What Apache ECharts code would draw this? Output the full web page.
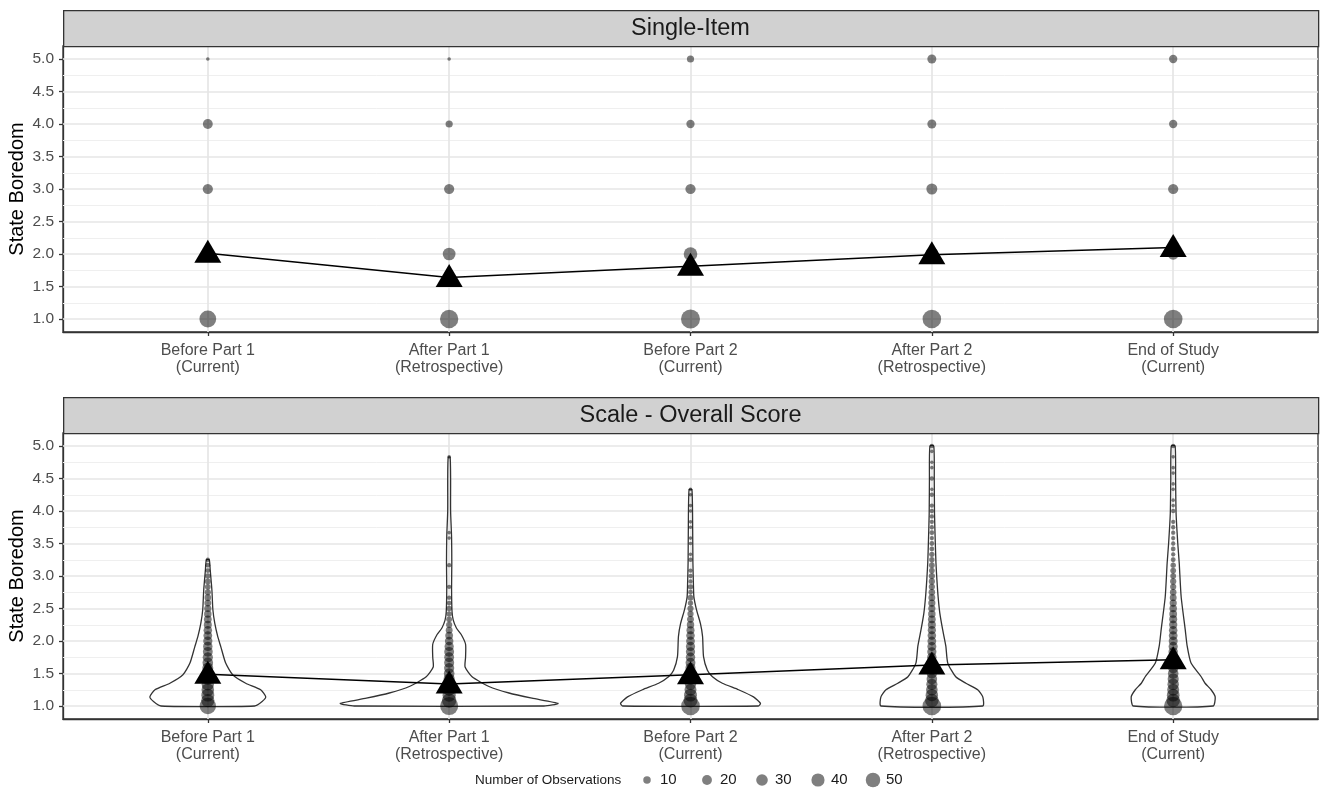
<!DOCTYPE html>
<html>
<head>
<meta charset="utf-8">
<script src="https://cdn.jsdelivr.net/npm/echarts@6/dist/echarts.min.js"></script>
<style>
html,body{margin:0;padding:0;background:#fff;}
#chart{width:1322px;height:791px;}
</style>
</head>
<body>
<div id="chart"></div>
<script>
// ---------------- DATA ----------------
const categories = ['Before Part 1\n(Current)', 'After Part 1\n(Retrospective)', 'Before Part 2\n(Current)', 'After Part 2\n(Retrospective)', 'End of Study\n(Current)'];
const panelTitles = ['Single-Item', 'Scale - Overall Score'];
const yTicks = [1.0, 1.5, 2.0, 2.5, 3.0, 3.5, 4.0, 4.5, 5.0];
const yMinorTicks = [1.25, 1.75, 2.25, 2.75, 3.25, 3.75, 4.25, 4.75];
const legendBreaks = [10, 20, 30, 40, 50];

// Single-item: number of observations at each response level
const singleLevels = [1, 2, 3, 4, 5];
const singleCounts = [
  [69, 30, 22, 20, 1],
  [84, 37, 22, 9, 1],
  [91, 43, 22, 13, 9],
  [87, 40, 26, 16, 16],
  [87, 28, 22, 13, 13]
];
const singleMeans = [2.01, 1.64, 1.81, 1.99, 2.10];

// Scale overall score: observed score levels and counts
const scoreLevels = [1.000, 1.083, 1.167, 1.250, 1.333, 1.417, 1.500, 1.583, 1.667, 1.750, 1.833, 1.917,
  2.000, 2.083, 2.167, 2.250, 2.333, 2.417, 2.500, 2.583, 2.667, 2.750, 2.833, 2.917,
  3.000, 3.083, 3.167, 3.250, 3.333, 3.417, 3.500, 3.583, 3.667, 3.750, 3.833, 3.917,
  4.000, 4.083, 4.167, 4.250, 4.333, 4.417, 4.500, 4.583, 4.667, 4.750, 4.833, 4.917, 5.000];
const scaleCountsBP1 = [66,40,38,36,34,31,28,26,24,22,20,18, 17,15,14,12,11,10,9,8,7,6,5,5, 4,3,3,2,0,0,0,0,0,0,0,0, 0,0,0,0,0,0,0,0,0,0,0,0,0];
const scaleCountsAP1 = [82,48,40,34,30,27,24,22,21,20,20,17, 14,11,8,6,5,4,4,3,2,0,2,0, 0,0,2,0,0,0,0,1,1,0,0,0, 0,0,0,0,0,0,0,0,0,0,1,0,0];
const scaleCountsBP2 = [88,45,38,32,27,24,22,21,20,18,17,17, 15,14,12,10,8,6,6,4,5,3,4,2, 2,2,0,2,1,0,1,1,0,1,1,0, 1,1,0,1,1,0,0,0,0,0,0,0,0];
const scaleCountsAP2 = [88,42,35,30,27,24,22,21,19,18,17,16, 15,14,13,12,11,10,9,9,8,7,6,6, 6,5,5,4,4,3,3,2,3,2,2,2, 2,2,0,2,1,0,2,0,1,1,0,1,2];
const scaleCountsEOS = [85,42,37,32,29,27,24,22,20,19,18,17, 16,15,14,13,12,11,10,9,8,7,6,6, 5,5,4,3,2,3,2,2,2,2,2,0, 2,1,1,0,1,1,0,1,1,0,1,0,2];
const scaleCounts = [scaleCountsBP1, scaleCountsAP1, scaleCountsBP2, scaleCountsAP2, scaleCountsEOS];
const scaleMeans = [1.49, 1.34, 1.48, 1.63, 1.71];

// Violin outlines: [score, half-width in category units]
const violinBP1 = [[1.0,0.194],[1.07,0.225],[1.14,0.240],[1.25,0.219],[1.35,0.157],[1.48,0.103],[1.66,0.074],[1.91,0.054],[2.07,0.041],[2.27,0.029],[2.48,0.021],[2.78,0.017],[3.09,0.010],[3.25,0.006]];
const violinAP1 = [[1.0,0.393],[1.04,0.451],[1.12,0.343],[1.2,0.248],[1.3,0.165],[1.45,0.095],[1.6,0.066],[1.75,0.068],[1.95,0.068],[2.1,0.050],[2.2,0.030],[2.32,0.017],[2.45,0.012],[2.8,0.010],[3.2,0.011],[3.6,0.010],[4.0,0.006],[4.5,0.006],[4.83,0.004]];
const violinBP2 = [[1.0,0.281],[1.04,0.290],[1.14,0.261],[1.25,0.199],[1.35,0.132],[1.45,0.091],[1.55,0.070],[1.76,0.054],[2.07,0.050],[2.27,0.041],[2.48,0.025],[2.68,0.014],[2.89,0.012],[3.2,0.010],[3.71,0.009],[4.33,0.006]];
const violinAP2 = [[1.0,0.211],[1.14,0.211],[1.25,0.190],[1.35,0.141],[1.45,0.099],[1.66,0.066],[1.92,0.058],[2.17,0.045],[2.43,0.033],[2.68,0.026],[2.94,0.021],[3.2,0.017],[3.55,0.014],[3.96,0.011],[4.48,0.010],[5.0,0.008]];
const violinEOS = [[1.0,0.165],[1.14,0.174],[1.25,0.157],[1.35,0.132],[1.45,0.116],[1.66,0.074],[1.92,0.058],[2.17,0.050],[2.68,0.033],[3.2,0.025],[3.5,0.019],[3.96,0.012],[4.48,0.010],[5.0,0.008]];
const violinProfiles = [violinBP1, violinAP1, violinBP2, violinAP2, violinEOS];

// ---------------- STYLE / LAYOUT ----------------
const FONT = '"Liberation Sans", Arial, Helvetica, sans-serif';
const DOT = 'rgba(0,0,0,0.5)';
const sizeOf = n => 1.8 + 1.8 * Math.sqrt(n);
const PLOT_L = 63, PLOT_W = 1255;
const panels = [{top: 46, height: 286, strip: 10}, {top: 433, height: 286, strip: 397}];

const catIdx = categories.map((c, i) => i + 1);

const singlePoints = [];
singleCounts.forEach((arr, i) => arr.forEach((n, k) => { if (n > 0) singlePoints.push([i + 1, singleLevels[k], n]); }));
const scalePoints = [];
scaleCounts.forEach((arr, i) => arr.forEach((n, k) => { if (n > 0) scalePoints.push([i + 1, scoreLevels[k], n]); }));

function xAxisCfg(gi) {
  return {
    type: 'value', gridIndex: gi, min: 0.4, max: 5.6,
    axisLine: {show: true, onZero: false, lineStyle: {color: '#333', width: 1.3}},
    splitLine: {show: false},
    axisTick: {show: true, customValues: catIdx, length: 4, lineStyle: {color: '#333', width: 1.3}},
    axisLabel: {show: true, customValues: catIdx, formatter: v => categories[Math.round(v) - 1] || '',
      color: '#4d4d4d', fontSize: 16, lineHeight: 17, fontFamily: FONT, margin: 10}
  };
}
function yAxisCfg(gi) {
  return {
    type: 'value', gridIndex: gi, min: 0.8, max: 5.2,
    name: 'State Boredom', nameLocation: 'middle', nameRotate: 90, nameGap: 36, nameMoveOverlap: false,
    nameTextStyle: {fontSize: 20, color: '#000', fontFamily: FONT},
    axisLine: {show: true, onZero: false, lineStyle: {color: '#333', width: 1.3}},
    splitLine: {show: false},
    axisTick: {show: true, customValues: yTicks, length: 4, lineStyle: {color: '#333', width: 1.3}},
    axisLabel: {show: true, customValues: yTicks, formatter: v => v.toFixed(1),
      color: '#4d4d4d', fontSize: 15.5, fontFamily: FONT, margin: 9}
  };
}
function gridLineSeries(gi) {
  const d = [];
  yMinorTicks.forEach(v => d.push({yAxis: v, lineStyle: {color: '#efefef', width: 1, type: 'solid'}}));
  yTicks.forEach(v => d.push({yAxis: v, lineStyle: {color: '#e6e6e6', width: 1.7, type: 'solid'}}));
  catIdx.forEach(v => d.push({xAxis: v, lineStyle: {color: '#e6e6e6', width: 1.7, type: 'solid'}}));
  return {
    type: 'scatter', xAxisIndex: gi, yAxisIndex: gi, data: [], z: 1, silent: true,
    markLine: {silent: true, z: 1, symbol: ['none', 'none'], label: {show: false}, animation: false,
      lineStyle: {type: 'solid'}, emphasis: {disabled: true}, data: d}
  };
}

const series = [
  gridLineSeries(0),
  gridLineSeries(1),
  {
    type: 'scatter', xAxisIndex: 0, yAxisIndex: 0, z: 3, silent: true,
    data: singlePoints, symbol: 'circle', symbolSize: v => sizeOf(v[2]),
    itemStyle: {color: DOT, opacity: 1}
  },
  {
    type: 'custom', xAxisIndex: 1, yAxisIndex: 1, z: 2, silent: true,
    data: catIdx.map(c => [c]),
    encode: {x: 0},
    renderItem: function (params, api) {
      const ci = api.value(0);
      const prof = violinProfiles[ci - 1];
      const right = prof.map(p => api.coord([ci + p[1], p[0]]));
      const left = prof.slice().reverse().map(p => api.coord([ci - p[1], p[0]]));
      return {type: 'polygon', shape: {points: right.concat(left), smooth: 0.2},
        style: {fill: 'none', stroke: '#333', lineWidth: 1.3}};
    }
  },
  {
    type: 'scatter', xAxisIndex: 1, yAxisIndex: 1, z: 3, silent: true,
    data: scalePoints, symbol: 'circle', symbolSize: v => sizeOf(v[2]),
    itemStyle: {color: DOT, opacity: 1}
  }
];
[singleMeans, scaleMeans].forEach((means, gi) => {
  const pts = means.map((m, i) => [i + 1, m]);
  series.push({
    type: 'line', xAxisIndex: gi, yAxisIndex: gi, z: 4, silent: true,
    data: pts, symbol: 'none', lineStyle: {color: '#000', width: 1.5}
  });
  series.push({
    type: 'scatter', xAxisIndex: gi, yAxisIndex: gi, z: 5, silent: true,
    data: pts, symbol: 'triangle', symbolSize: [27, 23], symbolOffset: [0, -2],
    itemStyle: {color: '#000', opacity: 1}
  });
});

// strips + legend as graphic elements
const graphic = [];
panels.forEach((p, i) => {
  graphic.push({type: 'rect', left: PLOT_L, top: p.strip, shape: {width: PLOT_W, height: p.top - p.strip},
    style: {fill: '#d1d1d1', stroke: '#333', lineWidth: 1.3}, z: 10});
  graphic.push({type: 'text', x: PLOT_L + PLOT_W / 2, y: (p.strip + p.top) / 2 + 1,
    style: {text: panelTitles[i], font: '23.5px ' + FONT, fill: '#1a1a1a', align: 'center', verticalAlign: 'middle'}, z: 11});
});
const LEG_Y = 780;
graphic.push({type: 'text', x: 475, y: LEG_Y, style: {text: 'Number of Observations', font: '13.5px ' + FONT, fill: '#1a1a1a', align: 'left', verticalAlign: 'middle'}});
const legX = [647, 707, 762, 818, 873];
legendBreaks.forEach((b, i) => {
  graphic.push({type: 'circle', shape: {cx: legX[i], cy: LEG_Y, r: sizeOf(b) / 2}, style: {fill: DOT}});
  graphic.push({type: 'text', x: legX[i] + 13, y: LEG_Y, style: {text: String(b), font: '15px ' + FONT, fill: '#1a1a1a', align: 'left', verticalAlign: 'middle'}});
});

const chart = echarts.init(document.getElementById('chart'), null, {renderer: 'canvas'});
chart.setOption({
  animation: false,
  backgroundColor: '#fff',
  grid: panels.map(p => ({left: PLOT_L, top: p.top, width: PLOT_W, height: p.height, show: true,
    backgroundColor: '#fff', borderColor: '#333', borderWidth: 1.3, containLabel: false, outerBoundsMode: 'none'})),
  xAxis: [xAxisCfg(0), xAxisCfg(1)],
  yAxis: [yAxisCfg(0), yAxisCfg(1)],
  series: series,
  graphic: graphic
});
</script>
</body>
</html>
